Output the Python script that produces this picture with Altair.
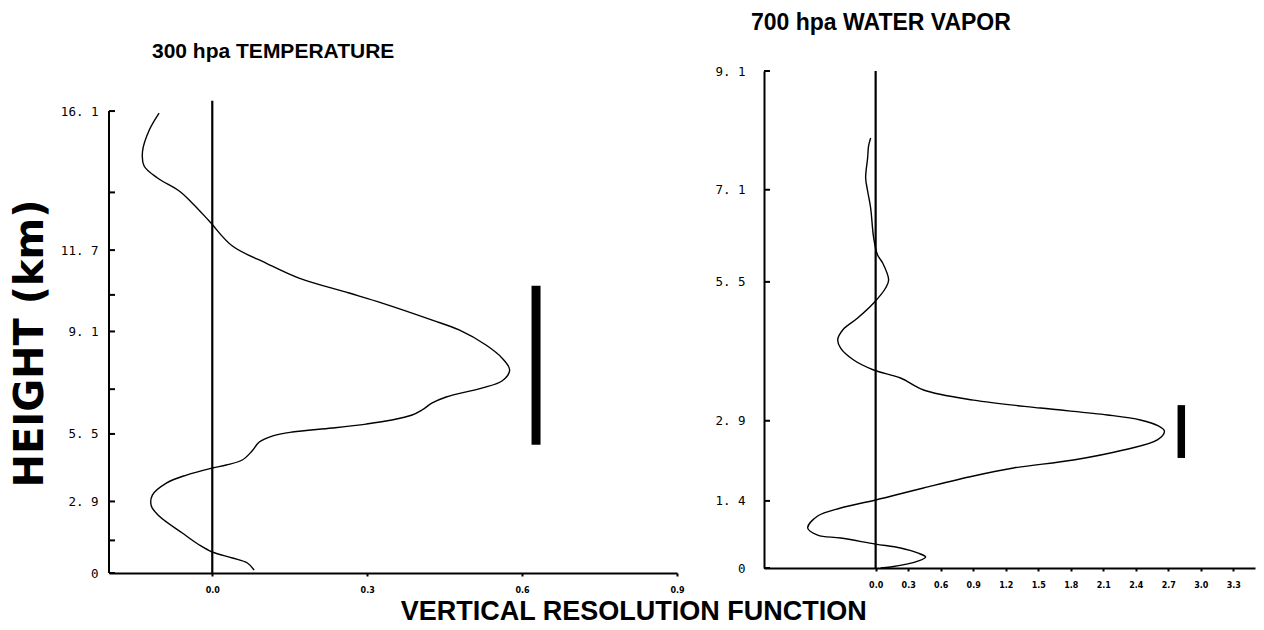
import altair as alt
import pandas as pd

# ---------------- data ----------------
# 300 hPa temperature weighting function: value vs pressure level (hPa)
left_x = [-0.103, -0.122, -0.135, -0.132, -0.106, -0.064, -0.039, -0.006, 0.039, 0.104,
          0.168, 0.265, 0.329, 0.426, 0.478, 0.530, 0.561, 0.576, 0.561, 0.522,
          0.453, 0.426, 0.406, 0.387, 0.348, 0.298, 0.232, 0.155, 0.116, 0.091,
          0.077, 0.058, 0.027, 0.000, -0.050, -0.089, -0.116, -0.118, -0.103, -0.058,
          -0.025, 0.000, 0.039, 0.068, 0.081]
left_p = [101.0, 109.9, 122.1, 131.5, 139.6, 149.0, 158.1, 173.0, 196.0, 213.3,
          229.9, 247.7, 260.4, 283.5, 297.8, 321.0, 342.4, 363.6, 384.1, 397.8,
          415.9, 428.5, 443.8, 455.0, 466.5, 476.0, 485.5, 495.3, 505.3, 520.6,
          544.4, 569.4, 583.7, 592.6, 613.7, 638.7, 678.1, 716.1, 752.6, 819.4,
          869.7, 900.7, 928.0, 951.4, 985.2]

# 700 hPa water vapour weighting function
right_x = [-0.046, -0.065, -0.074, -0.092, -0.074, -0.046, -0.018, 0.018, 0.065, 0.120,
           0.092, -0.018, -0.166, -0.304, -0.350, -0.323, -0.203, -0.018, 0.230, 0.442,
           0.903, 1.521, 2.138, 2.442, 2.608, 2.664, 2.599, 2.286, 1.825, 1.272,
           0.903, 0.442, 0.000, -0.323, -0.535, -0.627, -0.535, -0.323, 0.000, 0.230,
           0.387, 0.461, 0.396, 0.138, 0.046]
right_p = [352.8, 359.7, 370.4, 388.7, 401.2, 418.1, 449.6, 468.6, 477.7, 497.7,
           507.5, 526.3, 545.8, 561.8, 575.5, 587.0, 604.2, 619.0, 631.1, 649.7,
           665.8, 678.8, 690.2, 698.7, 708.9, 717.6, 733.3, 751.4, 769.8, 784.9,
           800.2, 823.8, 848.1, 864.7, 881.6, 907.7, 923.3, 930.0, 943.7, 952.8,
           964.2, 973.6, 983.1, 997.6, 1000.0]

# vertical resolution bars: x position, top / bottom pressure
left_bar_x = [0.627]
left_bar_top = [239.0]
left_bar_bottom = [528.0]
right_bar_x = [2.82]
right_bar_top = [674.0]
right_bar_bottom = [766.0]

# axes
left_levels = [1000, 850, 700, 500, 400, 300, 250, 200, 150, 100]
left_level_labels = ["0", "", "2. 9", "5. 5", "", "9. 1", "", "11. 7", "", "16. 1"]
right_levels = [1000, 850, 700, 500, 400, 300]
right_level_labels = ["0", "1. 4", "2. 9", "5. 5", "7. 1", "9. 1"]
left_xticks = [0.0, 0.3, 0.6, 0.9]
right_xticks = [0.0, 0.3, 0.6, 0.9, 1.2, 1.5, 1.8, 2.1, 2.4, 2.7, 3.0, 3.3]
left_xdomain = [-0.2, 0.9]
right_xdomain = [-1.03, 3.5]
left_pdomain = [81.9, 1000]     # plot area reaches a bit above the 100 hPa axis top
left_axis_range = [100, 1000]   # drawn extent of the left height axis
right_pdomain = [300, 1000]
left_zero_top = 95
right_zero_top = 300


def label_expr(levels, labels):
    parts = [f"datum.value == {p} ? '{l}'" for p, l in zip(levels, labels)]
    return " : ".join(parts) + " : ''"


TITLE_FONT = "Liberation Sans"
MONO = "DejaVu Sans Mono"


def panel(xs, ps, bx, btop, bbot, levels, level_labels, xticks, xdomain, pdomain,
          zero_top, ytitle, bar_width, width, height, title, label_pad, axis_range=None):
    curve = pd.DataFrame({"x": xs, "p": ps, "i": list(range(len(xs)))})
    bar = pd.DataFrame({"x": bx, "p": btop, "p2": bbot})
    zero = pd.DataFrame({"x": [0.0], "p": [pdomain[1]], "p2": [zero_top]})
    ticks = pd.DataFrame({"p": levels})

    xscale = alt.Scale(domain=xdomain, nice=False, zero=False)
    yscale = alt.Scale(type="log", domain=pdomain, reverse=True, nice=False)
    xaxis = alt.Axis(values=xticks, format=".1f", labelFont="DejaVu Sans",
                     labelFontWeight="bold", labelFontSize=8, labelPadding=10,
                     tickSize=3, tickWidth=2, title=None, labelFlush=False, grid=False)
    yaxis_kw = dict(values=levels, labelExpr=label_expr(levels, level_labels),
                    labelFont=MONO, labelFontSize=12.5, labelPadding=label_pad, ticks=False,
                    grid=False, domain=axis_range is None)
    if ytitle:
        yaxis = alt.Axis(title=ytitle, titleFont="DejaVu Sans", titleFontSize=40,
                         titleFontWeight="bold", titlePadding=10, titleY=272, **yaxis_kw)
    else:
        yaxis = alt.Axis(title=None, **yaxis_kw)

    X = alt.X("x:Q", scale=xscale, axis=xaxis)
    Y = alt.Y("p:Q", scale=yscale, axis=yaxis)

    line = alt.Chart(curve).mark_line(color="black", strokeWidth=1.4,
                                      interpolate="catmull-rom").encode(
        x=X, y=Y, order="i:Q")
    zl = alt.Chart(zero).mark_rule(color="black", strokeWidth=2.2).encode(
        x=X, y=Y, y2="p2:Q")
    br = alt.Chart(bar).mark_rule(color="black", strokeWidth=bar_width,
                                  strokeCap="butt").encode(x=X, y=Y, y2="p2:Q")
    tk = alt.Chart(ticks).mark_rule(color="black", strokeWidth=2).encode(
        y=Y, x=alt.value(0), x2=alt.value(6))
    layers = [tk, zl, line, br]
    if axis_range is not None:
        ax = pd.DataFrame({"p": [axis_range[0]], "p2": [axis_range[1]]})
        layers.insert(0, alt.Chart(ax).mark_rule(color="black", strokeWidth=2).encode(
            y=Y, y2="p2:Q", x=alt.value(0)))
    return alt.layer(*layers).properties(width=width, height=height, title=title)


left = panel(left_x, left_p, left_bar_x, left_bar_top, left_bar_bottom,
             left_levels, left_level_labels, left_xticks, left_xdomain, left_pdomain,
             left_zero_top, "HEIGHT (km)", 9, 568, 502,
             alt.TitleParams("300 hpa TEMPERATURE", anchor="start", frame="group",
                             dx=43, offset=9, font=TITLE_FONT,
                             fontSize=21, fontWeight="bold", color="black"),
             label_pad=11, axis_range=left_axis_range)
right = panel(right_x, right_p, right_bar_x, right_bar_top, right_bar_bottom,
              right_levels, right_level_labels, right_xticks, right_xdomain, right_pdomain,
              right_zero_top, None, 7.5, 491, 497,
              alt.TitleParams("700 hpa WATER VAPOR", anchor="start", frame="group",
                              dx=-13, offset=30, font=TITLE_FONT, fontSize=23,
                              fontWeight="bold", color="black"),
              label_pad=19)

chart = alt.hconcat(left, right, spacing=29).properties(
    title=alt.TitleParams("VERTICAL RESOLUTION FUNCTION", orient="bottom", anchor="middle",
                          font=TITLE_FONT, fontSize=27, fontWeight="bold", color="black",
                          offset=5, dx=1),
    padding={"left": 10, "top": 12, "right": 5, "bottom": 5},
    background="white",
).configure_view(strokeWidth=0, stroke="transparent").configure_axis(
    domainColor="black", domainWidth=2, labelColor="black", tickColor="black", grid=False
)

chart.save("out.html", embed_options={"renderer": "svg", "actions": False})
